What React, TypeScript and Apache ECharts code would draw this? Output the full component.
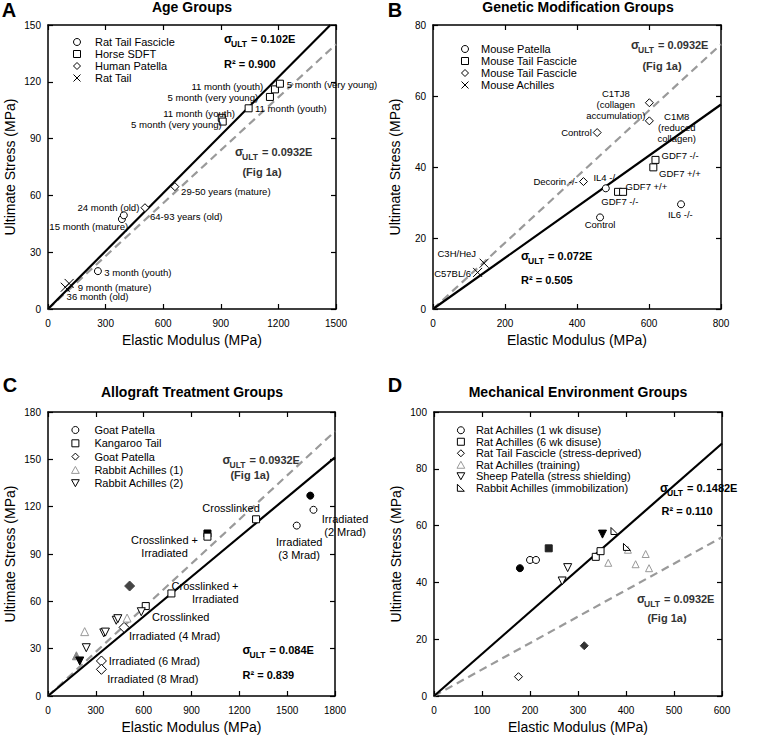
import { useEffect, useRef } from "react";
import * as echarts from "echarts";

const FONT = "Liberation Sans, Arial, Helvetica, sans-serif";

// ---------- Panel A: Age Groups ----------
const aRatTailFascicle = [[260, 20], [385, 47.5], [395, 49.5]];
const aHorseSDFT = [[905, 101], [910, 99], [1045, 106], [1156, 112], [1182, 116], [1208, 119]];
const aHumanPatella = [[505, 53.5], [661, 64.6]];
const aRatTail = [[90, 11.5], [110, 13.5]];
const aSlope = 0.102;
const aLabels: [number, number, string, string][] = [
  [1121, 117.4, "11 month (youth)", "right"],
  [1095, 111.9, "5 month (very young)", "right"],
  [1243, 118.5, "5 month (very young)", "left"],
  [1078, 105.7, "11 month (youth)", "left"],
  [974, 103, "11 month (youth)", "right"],
  [905, 97.4, "5 month (very young)", "right"],
  [693, 62, "29-50 years (mature)", "left"],
  [476, 53.5, "24 month (old)", "right"],
  [531, 49.1, "64-93 years (old)", "left"],
  [418, 43.8, "15 month (mature)", "right"],
  [293, 19.2, "3 month (youth)", "left"],
  [155, 11.5, "9 month (mature)", "left"],
  [97, 6.5, "36 month (old)", "left"],
];

// ---------- Panel B: Genetic Modification Groups ----------
const bMousePatella = [[480, 34], [464, 25.8], [689, 29.5]];
const bMouseTailFascicleSq = [[618, 42], [612, 39.9], [514, 33], [528, 33]];
const bMouseTailFascicleDi = [[456, 49.7], [601, 58.1], [601, 53], [418, 35.9]];
const bMouseAchilles = [[142, 12.9], [124, 10.3]];
const bSlope = 0.072;
const bLabels: [number, number, string, string][] = [
  [508, 57.5, "C1TJ8\n(collagen\naccumulation)", "center"],
  [677, 51.1, "C1M8\n(reduced\ncollagen)", "center"],
  [441, 49.6, "Control", "right"],
  [635, 43.1, "GDF7 -/-", "left"],
  [628, 38.2, "GDF7 +/+", "left"],
  [402, 36, "Decorin -/-", "right"],
  [480, 37.1, "IL4 -/-", "center"],
  [535, 34.5, "GDF7 +/+", "left"],
  [519, 30.2, "GDF7 -/-", "center"],
  [464, 23.9, "Control", "center"],
  [687, 26.7, "IL6 -/-", "center"],
  [66, 15.7, "C3H/HeJ", "center"],
  [106, 10.1, "C57BL/6", "right"],
];

// ---------- Panel C: Allograft Treatment Groups ----------
const cGoatPatellaCircle = [[1665, 118], [1560, 108]];
const cGoatPatellaCircleCtrl = [[1645, 127]];
const cKangarooTail = [[1000, 101], [1305, 112], [774, 65], [613, 57]];
const cKangarooTailCtrl = [[1000, 103]];
const cGoatPatellaDiamond = [[477, 43.5], [335, 22.2], [335, 16.9]];
const cGoatPatellaDiamondCtrl = [[512, 69.7]];
const cRabbitAchilles1 = [[230, 40.8], [496, 49.4]];
const cRabbitAchilles1Ctrl = [[178, 25.5]];
const cRabbitAchilles2 = [[240, 30.6], [350, 40], [360, 40.5], [428, 48], [438, 49], [585, 53.4]];
const cRabbitAchilles2Ctrl = [[199, 22.2]];
const cSlope = 0.084;
const cLabels: [number, number, string, string][] = [
  [1148, 119.3, "Crosslinked", "center"],
  [731, 95, "Crosslinked +\nIrradiated", "center"],
  [1863, 107.9, "Irradiated\n(2 Mrad)", "center"],
  [1575, 93.6, "Irradiated\n(3 Mrad)", "center"],
  [1195, 65.3, "Crosslinked +\nIrradiated", "right"],
  [652, 50.3, "Crosslinked", "left"],
  [508, 38, "Irradiated (4 Mrad)", "left"],
  [381, 22.2, "Irradiated (6 Mrad)", "left"],
  [372, 10.6, "Irradiated (8 Mrad)", "left"],
];

// ---------- Panel D: Mechanical Environment Groups ----------
const dRatAchilles1wk = [[200, 47.9], [212.5, 47.9]];
const dRatAchilles1wkCtrl = [[179, 45]];
const dRatAchilles6wk = [[337, 49], [347, 51]];
const dRatAchilles6wkCtrl = [[239, 52]];
const dRatTailFascicle = [[176, 6.8]];
const dRatTailFascicleCtrl = [[313, 17.7]];
const dRatAchillesTraining = [[363, 46.9], [404, 51.5], [420, 46.4], [441, 50], [448, 45]];
const dSheepPatella = [[278.5, 45.2], [267, 40.5]];
const dSheepPatellaCtrl = [[351, 57]];
const dRabbitAchilles = [[376, 58.1], [402, 52.5]];
const dSlope = 0.1482;

const refSlope = 0.0932;

const SYM = {
  circle: "circle",
  square: "path://M0,0L10,0L10,10L0,10Z",
  diamond: "path://M5,0L10,5L5,10L0,5Z",
  triUp: "path://M5,0L10,9L0,9Z",
  triDown: "path://M0,0L10,0L5,9Z",
  cross: "path://M0,0L10,10M10,0L0,10",
  rightTri: "path://M0,0L0,10L10,10Z",
};

const panels = [
  { left: 48, top: 25, width: 288, height: 284, xMax: 1500, xInt: 300, yMax: 150, yInt: 30 },
  { left: 433, top: 25, width: 288, height: 284, xMax: 800, xInt: 200, yMax: 80, yInt: 20 },
  { left: 48, top: 412, width: 287, height: 284, xMax: 1800, xInt: 300, yMax: 180, yInt: 30 },
  { left: 434, top: 412, width: 288, height: 284, xMax: 600, xInt: 100, yMax: 100, yInt: 20 },
];

function fitLine(slope: number, xMax: number, yMax: number) {
  const x = Math.min(xMax, yMax / slope);
  return [[0, 0], [x, slope * x]];
}

function sc(g: number, name: string, data: number[][], symbol: string, size: number, fill: string, stroke: string) {
  return {
    type: "scatter",
    name,
    data,
    xAxisIndex: 2 * g,
    yAxisIndex: 2 * g,
    symbol,
    symbolSize: size,
    itemStyle: { color: fill, borderColor: stroke, borderWidth: 1, opacity: 1 },
    silent: true,
    z: 4,
  };
}

function lines(g: number, slope: number) {
  const p = panels[g];
  return [
    {
      type: "line",
      data: fitLine(refSlope, p.xMax, p.yMax),
      xAxisIndex: 2 * g,
      yAxisIndex: 2 * g,
      symbol: "none",
      silent: true,
      lineStyle: { color: "#9a9a9a", width: 2.2, type: [8, 5] },
      z: 2,
    },
    {
      type: "line",
      data: fitLine(slope, p.xMax, p.yMax),
      xAxisIndex: 2 * g,
      yAxisIndex: 2 * g,
      symbol: "none",
      silent: true,
      lineStyle: { color: "#000", width: 2.2 },
      z: 3,
    },
  ];
}

function ann(g: number, data: [number, number, string, string][], fontSize: number, lineHeight: number) {
  return {
    type: "scatter",
    xAxisIndex: 2 * g,
    yAxisIndex: 2 * g,
    symbolSize: 1,
    clip: false,
    silent: true,
    itemStyle: { color: "rgba(0,0,0,0)" },
    z: 6,
    label: {
      show: true,
      position: "inside",
      formatter: "{b}",
      fontSize,
      lineHeight,
      fontFamily: FONT,
      color: "#000",
      opacity: 1,
      textBorderWidth: 0,
      verticalAlign: "middle",
    },
    data: data.map(([x, y, t, al]) => ({ name: t, value: [x, y], label: { align: al } })),
  };
}

function axisSet(g: number) {
  const p = panels[g];
  const line = { show: true, onZero: false, lineStyle: { color: "#000", width: 1.5 } };
  const tick = { show: true, inside: true, length: 5, lineStyle: { color: "#000", width: 1.2 } };
  const lab = { fontSize: 10, color: "#000", fontFamily: FONT, formatter: (v: number) => String(v) };
  const nameStyle = { fontSize: 14, color: "#000", fontFamily: FONT };
  const x = [
    {
      gridIndex: g, type: "value", position: "bottom", min: 0, max: p.xMax, interval: p.xInt,
      axisLine: line, axisTick: tick, splitLine: { show: false },
      axisLabel: { ...lab, margin: 9 },
      name: "Elastic Modulus (MPa)", nameLocation: "middle", nameGap: 24, nameTextStyle: nameStyle,
    },
    {
      gridIndex: g, type: "value", position: "top", min: 0, max: p.xMax, interval: p.xInt,
      axisLine: line, axisTick: tick, splitLine: { show: false }, axisLabel: { show: false },
    },
  ];
  const y = [
    {
      gridIndex: g, type: "value", position: "left", min: 0, max: p.yMax, interval: p.yInt,
      axisLine: line, axisTick: tick, splitLine: { show: false },
      axisLabel: { ...lab, margin: 7 },
      name: "Ultimate Stress (MPa)", nameLocation: "middle", nameGap: 31, nameTextStyle: nameStyle,
    },
    {
      gridIndex: g, type: "value", position: "right", min: 0, max: p.yMax, interval: p.yInt,
      axisLine: line, axisTick: tick, splitLine: { show: false }, axisLabel: { show: false },
    },
  ];
  return { x, y };
}

function legend(names: string[], left: number, top: number, itemWidth: number, gap: number, lh: number) {
  return {
    data: names,
    orient: "vertical",
    left,
    top,
    padding: 0,
    itemWidth,
    itemHeight: 7,
    itemGap: gap,
    selectedMode: false,
    itemStyle: { borderWidth: 1 },
    textStyle: { fontSize: 11, color: "#000", fontFamily: FONT, lineHeight: lh },
  };
}

function sigmaText(x: number, y: number, value: string, color: string) {
  return [
    { type: "text", x, y, silent: true, style: { text: "σ", fontSize: 12, fontWeight: "bold", fontFamily: FONT, fill: color, textVerticalAlign: "middle", verticalAlign: "middle" } },
    { type: "text", x: x + 7, y: y + 5, silent: true, style: { text: "ULT", fontSize: 8.5, fontWeight: "bold", fontFamily: FONT, fill: color, textVerticalAlign: "middle", verticalAlign: "middle" } },
    { type: "text", x: x + 27, y, silent: true, style: { text: "= " + value, fontSize: 11, fontWeight: "bold", fontFamily: FONT, fill: color, textVerticalAlign: "middle", verticalAlign: "middle" } },
  ];
}

function plainText(x: number, y: number, text: string, align: string, size: number, color: string) {
  return {
    type: "text", x, y, silent: true,
    style: { text, fontSize: size, fontWeight: "bold", fontFamily: FONT, fill: color, textAlign: align, align, textVerticalAlign: "middle", verticalAlign: "middle" },
  };
}

export default function App() {
  const ref = useRef<HTMLDivElement>(null);
  useEffect(() => {
    if (!ref.current) return;
    const chart = echarts.init(ref.current, null, { renderer: "svg" });
    const axes = [0, 1, 2, 3].map(axisSet);
    const W = "#fff";
    const K = "#000";
    const G = "#999";
    const series: any[] = [
      ...lines(0, aSlope),
      sc(0, "Rat Tail Fascicle", aRatTailFascicle, SYM.circle, 7, W, K),
      sc(0, "Horse SDFT", aHorseSDFT, SYM.square, 7, W, K),
      sc(0, "Human Patella", aHumanPatella, SYM.diamond, 8, W, K),
      sc(0, "Rat Tail", aRatTail, SYM.cross, 9, "none", K),
      ann(0, aLabels, 9.6, 9.8),

      ...lines(1, bSlope),
      sc(1, "Mouse Patella", bMousePatella, SYM.circle, 7, W, K),
      sc(1, "Mouse Tail Fascicle", bMouseTailFascicleSq, SYM.square, 7, W, K),
      sc(1, "Mouse Tail Fascicle ", bMouseTailFascicleDi, SYM.diamond, 8, W, K),
      sc(1, "Mouse Achilles", bMouseAchilles, SYM.cross, 9, "none", K),
      ann(1, bLabels, 9.5, 11),

      ...lines(2, cSlope),
      sc(2, "Goat Patella ctrl", cGoatPatellaCircleCtrl, SYM.circle, 7, K, K),
      sc(2, "Goat Patella", cGoatPatellaCircle, SYM.circle, 7, W, K),
      sc(2, "Kangaroo Tail ctrl", cKangarooTailCtrl, SYM.square, 7, K, K),
      sc(2, "Kangaroo Tail", cKangarooTail, SYM.square, 7, W, K),
      sc(2, "Goat Patella diamond ctrl", cGoatPatellaDiamondCtrl, SYM.diamond, 10, "#444", "#444"),
      sc(2, "Goat Patella ", cGoatPatellaDiamond, SYM.diamond, 10, W, K),
      sc(2, "Rabbit Achilles (1) ctrl", cRabbitAchilles1Ctrl, SYM.triUp, 8, "#888", "#888"),
      sc(2, "Rabbit Achilles (1)", cRabbitAchilles1, SYM.triUp, 8, W, G),
      sc(2, "Rabbit Achilles (2) ctrl", cRabbitAchilles2Ctrl, SYM.triDown, 8, K, K),
      sc(2, "Rabbit Achilles (2)", cRabbitAchilles2, SYM.triDown, 8, W, K),
      ann(2, cLabels, 11, 13),

      ...lines(3, dSlope),
      sc(3, "Rat Achilles (1 wk disuse) ctrl", dRatAchilles1wkCtrl, SYM.circle, 7, K, K),
      sc(3, "Rat Achilles (1 wk disuse)", dRatAchilles1wk, SYM.circle, 7, W, K),
      sc(3, "Rat Achilles (6 wk disuse) ctrl", dRatAchilles6wkCtrl, SYM.square, 7, "#222", "#222"),
      sc(3, "Rat Achilles (6 wk disuse)", dRatAchilles6wk, SYM.square, 7, W, K),
      sc(3, "Rat Tail Fascicle (stress-deprived) ctrl", dRatTailFascicleCtrl, SYM.diamond, 8, "#333", "#333"),
      sc(3, "Rat Tail Fascicle (stress-deprived)", dRatTailFascicle, SYM.diamond, 8, W, K),
      sc(3, "Rat Achilles (training)", dRatAchillesTraining, SYM.triUp, 7, W, G),
      sc(3, "Sheep Patella (stress shielding) ctrl", dSheepPatellaCtrl, SYM.triDown, 8, K, K),
      sc(3, "Sheep Patella (stress shielding)", dSheepPatella, SYM.triDown, 8, W, K),
      sc(3, "Rabbit Achilles (immobilization)", dRabbitAchilles, SYM.rightTri, 7, W, K),
    ];

    const graphic: any[] = [
      plainText(9, 10, "A", "center", 20, "#000"),
      plainText(395, 10, "B", "center", 20, "#000"),
      plainText(10, 385, "C", "center", 20, "#000"),
      plainText(395, 385, "D", "center", 20, "#000"),
      ...sigmaText(224, 38.5, "0.102E", "#000"),
      plainText(224, 63.5, "R² = 0.900", "left", 11, "#000"),
      ...sigmaText(235, 151.5, "0.0932E", "#333"),
      plainText(262, 171.5, "(Fig 1a)", "center", 11, "#333"),
      ...sigmaText(631, 45, "0.0932E", "#333"),
      plainText(662, 65.5, "(Fig 1a)", "center", 11, "#333"),
      ...sigmaText(521, 256, "0.072E", "#000"),
      plainText(521, 280, "R² = 0.505", "left", 11, "#000"),
      ...sigmaText(222.5, 460, "0.0932E", "#333"),
      plainText(250, 474.5, "(Fig 1a)", "center", 11, "#333"),
      ...sigmaText(242.5, 649.5, "0.084E", "#000"),
      plainText(242.5, 674.5, "R² = 0.839", "left", 11, "#000"),
      ...sigmaText(660, 487.5, "0.1482E", "#000"),
      plainText(661.5, 510.5, "R² = 0.110", "left", 11, "#000"),
      ...sigmaText(637, 598.5, "0.0932E", "#333"),
      plainText(667, 618, "(Fig 1a)", "center", 11, "#333"),
    ];

    const titleStyle = { fontSize: 14, fontWeight: "bold", color: "#000", fontFamily: FONT };
    chart.setOption({
      animation: false,
      backgroundColor: "#fff",
      textStyle: { fontFamily: FONT },
      title: [
        { text: "Age Groups", left: 192, top: 0, textAlign: "center", padding: 0, textStyle: titleStyle },
        { text: "Genetic Modification Groups", left: 578, top: 0, textAlign: "center", padding: 0, textStyle: titleStyle },
        { text: "Allograft Treatment Groups", left: 192, top: 385, textAlign: "center", padding: 0, textStyle: titleStyle },
        { text: "Mechanical Environment Groups", left: 578, top: 385, textAlign: "center", padding: 0, textStyle: titleStyle },
      ],
      grid: panels.map((p) => ({ left: p.left, top: p.top, width: p.width, height: p.height, containLabel: false, outerBoundsMode: "none" })),
      xAxis: axes.flatMap((a) => a.x),
      yAxis: axes.flatMap((a) => a.y),
      legend: [
        legend(["Rat Tail Fascicle", "Horse SDFT", "Human Patella", "Rat Tail"], 71, 36, 26, 0, 12),
        legend(["Mouse Patella", "Mouse Tail Fascicle", "Mouse Tail Fascicle ", "Mouse Achilles"], 459, 43, 22, 0, 12),
        legend(["Goat Patella", "Kangaroo Tail", "Goat Patella ", "Rabbit Achilles (1)", "Rabbit Achilles (2)"], 71, 424, 28, 1.3, 12),
        legend([
          "Rat Achilles (1 wk disuse)", "Rat Achilles (6 wk disuse)", "Rat Tail Fascicle (stress-deprived)",
          "Rat Achilles (training)", "Sheep Patella (stress shielding)", "Rabbit Achilles (immobilization)",
        ], 456.5, 424.5, 20, 0, 11.5),
      ],
      series,
      graphic,
    });
    return () => chart.dispose();
  }, []);
  return <div ref={ref} style={{ position: "absolute", left: 0, top: 0, width: 763, height: 737 }} />;
}
